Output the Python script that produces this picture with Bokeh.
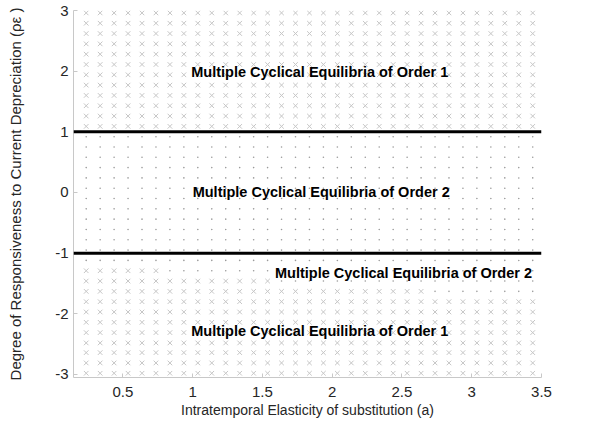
from bokeh.plotting import figure
from bokeh.models import Range1d, Span, ColumnDataSource, FixedTicker
from bokeh.core.properties import value
from bokeh.embed import file_html
from bokeh.resources import INLINE

# grid of evaluated parameter points
a_values = [0.237, 0.337, 0.437, 0.537, 0.637, 0.737, 0.837, 0.937, 1.037, 1.137,
            1.237, 1.337, 1.437, 1.537, 1.637, 1.737, 1.837, 1.937, 2.037, 2.137,
            2.237, 2.337, 2.437, 2.537, 2.637, 2.737, 2.837, 2.937, 3.037, 3.137,
            3.237, 3.337, 3.437]
rho_values = [2.96, 2.79, 2.62, 2.45, 2.28, 2.11, 1.94, 1.77, 1.60, 1.43, 1.26, 1.09,
              0.92, 0.75, 0.58, 0.41, 0.24, 0.07, -0.10, -0.27, -0.44, -0.61, -0.78, -0.95,
              -1.12, -1.29, -1.46, -1.63, -1.80, -1.97, -2.14, -2.31, -2.48, -2.64, -2.81, -2.98]
# lower transition rows: Order-1 points reach up to this a value
transition_rows = [-1.12, -1.29, -1.46, -1.63]
transition_amax = [0.0, 0.74, 1.54, 2.64]

boundary_levels = [1, -1]

region_texts = ["Multiple Cyclical Equilibria of Order 1",
                "Multiple Cyclical Equilibria of Order 2",
                "Multiple Cyclical Equilibria of Order 2",
                "Multiple Cyclical Equilibria of Order 1"]
region_x = [0.99, 1.0, 1.59, 0.99]
region_y = [1.98, 0.0, -1.32, -2.29]

x_ticks = [0.5, 1, 1.5, 2, 2.5, 3, 3.5]
x_tick_labels = ["0.5", "1", "1.5", "2", "2.5", "3", "3.5"]
y_ticks = [-3, -2, -1, 0, 1, 2, 3]
y_tick_labels = ["-3", "-2", "-1", "0", "1", "2", "3"]

x_title = "Intratemporal Elasticity of substitution (a)"
y_title = "Degree of Responsiveness to Current Depreciation (\u03c1\u03b5 )"

# classify grid points
o1x, o1y, o2x, o2y = [], [], [], []
for r in rho_values:
    for a in a_values:
        if r > 1:
            order1 = True
        elif r > -1:
            order1 = False
        elif r in transition_rows:
            order1 = a <= transition_amax[transition_rows.index(r)]
        else:
            order1 = True
        if order1:
            o1x.append(a); o1y.append(r)
        else:
            o2x.append(a); o2y.append(r)

FONT = "Liberation Sans"

p = figure(width=592, height=423, x_range=Range1d(0.146, 3.5), y_range=Range1d(-3.05, 3.0),
           output_backend="svg", toolbar_location=None,
           min_border_left=73, min_border_right=51, min_border_top=10, min_border_bottom=46)
p.outline_line_color = None
p.xgrid.visible = False
p.ygrid.visible = False
p.background_fill_color = "white"

p.scatter(o1x, o1y, marker="x", size=6.5, line_color="#c6c6c6", line_width=1)
p.scatter(o2x, o2y, marker="circle", size=1.6, line_color=None, fill_color="#9a9a9a")

for lev in boundary_levels:
    p.add_layout(Span(location=lev, dimension="width", line_color="black", line_width=3))

src = ColumnDataSource(dict(x=region_x, y=region_y, t=region_texts))
p.text(x="x", y="y", text="t", source=src, text_font=value(FONT), text_font_style="bold",
       text_font_size="14.5px", text_align="left", text_baseline="middle", text_color="black")

for ax, ticks, labels in ((p.xaxis[0], x_ticks, x_tick_labels), (p.yaxis[0], y_ticks, y_tick_labels)):
    ax.ticker = FixedTicker(ticks=ticks, minor_ticks=[])
    ax.major_label_overrides = {t: l for t, l in zip(ticks, labels)}
    ax.axis_line_color = "#c8c8c8"
    ax.major_tick_line_color = "#c8c8c8"
    ax.major_tick_in = 4
    ax.major_tick_out = 0
    ax.minor_tick_line_color = None
    ax.major_label_text_font = FONT
    ax.major_label_text_font_size = "15px"
    ax.major_label_text_color = "#262626"
    ax.axis_label_text_font = FONT
    ax.axis_label_text_font_size = "14px"
    ax.axis_label_text_font_style = "normal"
    ax.axis_label_text_color = "#262626"

p.xaxis.axis_label = x_title
p.yaxis.axis_label = y_title
p.yaxis.axis_label_text_font_size = "15px"
p.xaxis.major_label_standoff = 9
p.xaxis.axis_label_standoff = 2
p.yaxis.major_label_standoff = 5
p.yaxis.axis_label_standoff = 28

open("out.html", "w").write(file_html(p, INLINE))
